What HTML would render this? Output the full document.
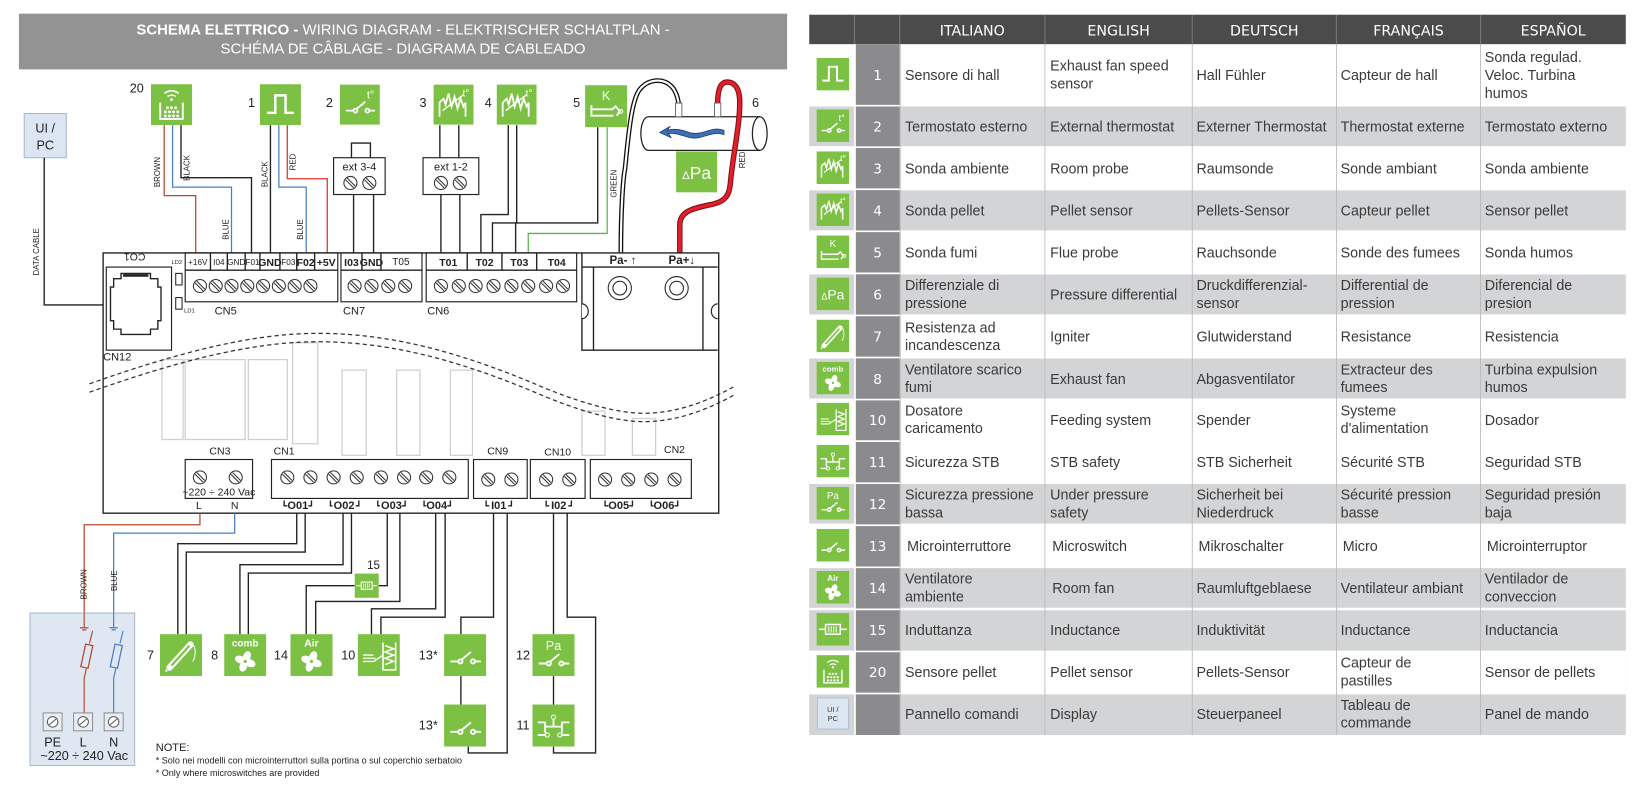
<!DOCTYPE html>
<html><head><meta charset="utf-8"><style>
html,body{margin:0;padding:0;background:#fff;}
svg{display:block;}
.d{font-family:"Liberation Sans",Arial,sans-serif;fill:#222;}
.t{font-family:"Liberation Sans","DejaVu Sans",sans-serif;fill:#3a3a3a;font-size:13.6px;}
.h{font-family:"DejaVu Sans","Liberation Sans",sans-serif;fill:#fff;font-size:13.5px;text-anchor:middle;}
.n{font-family:"DejaVu Sans","Liberation Sans",sans-serif;fill:#fff;font-size:13px;text-anchor:middle;}
.w{fill:none;stroke:#222;stroke-width:1.3;}
</style></head><body>
<svg width="1650" height="796" viewBox="0 0 1568 757" preserveAspectRatio="none" xmlns="http://www.w3.org/2000/svg">
<defs>
<g id="scr"><circle r="6.2" fill="#fff" stroke="#333" stroke-width="1"/><line x1="-3" y1="-4.6" x2="4.6" y2="3" stroke="#333" stroke-width="1"/><line x1="-4.6" y1="-3" x2="3" y2="4.6" stroke="#333" stroke-width="1"/></g>
<g id="swg" fill="none" stroke="#fff" stroke-width="1.8"><path d="M6 26H13.5M29.5 26H35M16.5 24.5L25.5 17"/><circle cx="15.5" cy="26" r="2"/><circle cx="27.5" cy="26" r="2"/></g>
<g id="fang" fill="#fff"><ellipse cx="0" cy="-5" rx="3.6" ry="5.2" transform="rotate(20)"/><ellipse cx="0" cy="-5" rx="3.6" ry="5.2" transform="rotate(110)"/><ellipse cx="0" cy="-5" rx="3.6" ry="5.2" transform="rotate(200)"/><ellipse cx="0" cy="-5" rx="3.6" ry="5.2" transform="rotate(290)"/><circle r="1.5" fill="#7cc143"/></g>
<symbol id="i-hall" viewBox="0 0 40 40"><rect width="40" height="40" fill="#7cc143"/><path d="M7 28H15V11H25V28H33" stroke="#fff" stroke-width="2.4" fill="none"/></symbol>
<symbol id="i-th" viewBox="0 0 40 40"><rect width="40" height="40" fill="#7cc143"/><use href="#swg"/><text x="27" y="14" font-size="11" fill="#fff" font-family="Liberation Sans,sans-serif">t°</text></symbol>
<symbol id="i-pr" viewBox="0 0 40 40"><rect width="40" height="40" fill="#7cc143"/><path d="M6 32V18L10 14L12 20L15 9L18 22L21 12L24 24L27 14L30 22L32 18V32" stroke="#fff" stroke-width="1.8" fill="none"/><path d="M9 26L30 10" stroke="#fff" stroke-width="1.4"/><text x="29" y="12" font-size="10" fill="#fff" font-family="Liberation Sans,sans-serif">t°</text></symbol>
<symbol id="i-k" viewBox="0 0 40 40"><rect width="40" height="40" fill="#7cc143"/><text x="20" y="14" font-size="12" fill="#fff" text-anchor="middle" font-family="Liberation Sans,sans-serif">K</text><path d="M6 19V29H27M6 23H26L29 20L33 25L30 29" stroke="#fff" stroke-width="1.8" fill="none"/><circle cx="34" cy="25" r="1.8" stroke="#fff" fill="none"/></symbol>
<symbol id="i-comb" viewBox="0 0 40 40"><rect width="40" height="40" fill="#7cc143"/><text x="20" y="12" font-size="9.5" font-weight="bold" fill="#fff" text-anchor="middle" font-family="Liberation Sans,sans-serif">comb</text><use href="#fang" x="20" y="26"/></symbol>
<symbol id="i-air" viewBox="0 0 40 40"><rect width="40" height="40" fill="#7cc143"/><text x="20" y="12" font-size="10" font-weight="bold" fill="#fff" text-anchor="middle" font-family="Liberation Sans,sans-serif">Air</text><use href="#fang" x="20" y="26"/></symbol>
<symbol id="i-ign" viewBox="0 0 40 40"><rect width="40" height="40" fill="#7cc143"/><path d="M9 32L29 10" stroke="#fff" stroke-width="6" stroke-linecap="round"/><path d="M11 30L28 11" stroke="#7cc143" stroke-width="2"/><path d="M30 9C35 12 34 22 31 26" stroke="#fff" stroke-width="1" fill="none"/><circle cx="6" cy="35" r="1" fill="#fff"/></symbol>
<symbol id="i-feed" viewBox="0 0 40 40"><rect width="40" height="40" fill="#7cc143"/><path d="M24 8V34H36V8M26 11L34 14L26 17L34 20L26 23L34 26L26 29" stroke="#fff" stroke-width="1.5" fill="none"/><path d="M5 20H15M5 23H17M5 26H15L24 20" stroke="#fff" stroke-width="1.3" fill="none"/></symbol>
<symbol id="i-sw" viewBox="0 0 40 40"><rect width="40" height="40" fill="#7cc143"/><use href="#swg"/></symbol>
<symbol id="i-pa" viewBox="0 0 40 40"><rect width="40" height="40" fill="#7cc143"/><text x="20" y="15" font-size="12" fill="#fff" text-anchor="middle" font-family="Liberation Sans,sans-serif">Pa</text><use href="#swg" y="2"/></symbol>
<symbol id="i-stb" viewBox="0 0 40 40"><rect width="40" height="40" fill="#7cc143"/><path d="M5 17H12V27M28 27V17H35M5 29H13M27 29H35M12 21H28M20 21V14" stroke="#fff" stroke-width="1.7" fill="none"/><circle cx="20" cy="12" r="2" stroke="#fff" fill="none"/><circle cx="14" cy="29" r="2" stroke="#fff" fill="none"/><circle cx="26" cy="29" r="2" stroke="#fff" fill="none"/></symbol>
<symbol id="i-ind" viewBox="0 0 40 40"><rect width="40" height="40" fill="#7cc143"/><path d="M3 20H11M29 20H37" stroke="#fff" stroke-width="2"/><rect x="11" y="14" width="18" height="12" stroke="#fff" stroke-width="1.8" fill="none"/><path d="M15 16V24M18 16V24M21 16V24M24 16V24" stroke="#fff" stroke-width="1.2"/></symbol>
<symbol id="i-pel" viewBox="0 0 40 40"><rect width="40" height="40" fill="#7cc143"/><path d="M13 9Q20 4 27 9M16 12Q20 9.5 24 12" stroke="#fff" stroke-width="1.5" fill="none"/><circle cx="20" cy="15" r="1.4" fill="#fff"/><path d="M9 18V34H31V18" stroke="#fff" stroke-width="1.8" fill="none"/><g fill="#fff"><circle cx="16" cy="23" r="1.4"/><circle cx="20" cy="23" r="1.4"/><circle cx="24" cy="23" r="1.4"/><circle cx="14" cy="27" r="1.4"/><circle cx="18" cy="27" r="1.4"/><circle cx="22" cy="27" r="1.4"/><circle cx="26" cy="27" r="1.4"/><circle cx="14" cy="31" r="1.4"/><circle cx="18" cy="31" r="1.4"/><circle cx="22" cy="31" r="1.4"/><circle cx="26" cy="31" r="1.4"/></g></symbol>
<symbol id="i-dpa" viewBox="0 0 40 40"><rect width="40" height="40" fill="#7cc143"/><text x="20" y="27" font-size="17" fill="#fff" text-anchor="middle" font-family="Liberation Sans,sans-serif"><tspan font-size="11">Δ</tspan>Pa</text></symbol>
<symbol id="i-ui" viewBox="0 0 40 40"><rect x="1" y="1" width="38" height="38" fill="#dce6f3" stroke="#aebbd0"/><text x="20" y="18" font-size="9" fill="#333" text-anchor="middle" font-family="Liberation Sans,sans-serif">UI /</text><text x="20" y="29" font-size="9" fill="#333" text-anchor="middle" font-family="Liberation Sans,sans-serif">PC</text></symbol>
</defs>

<!-- header -->
<rect x="18" y="13" width="730" height="53" fill="#939393"/>
<text x="383" y="33" class="d" font-size="14.2" fill="#fff" text-anchor="middle" style="fill:#fff"><tspan font-weight="bold">SCHEMA ELETTRICO -</tspan> WIRING DIAGRAM - ELEKTRISCHER SCHALTPLAN -</text>
<text x="383" y="51" class="d" font-size="14.2" text-anchor="middle" style="fill:#fff">SCHÉMA DE CÂBLAGE - DIAGRAMA DE CABLEADO</text>

<!-- UI/PC -->
<rect x="23" y="108" width="40" height="42" fill="#dce6f3" stroke="#a9b8cc"/>
<text x="43" y="126" class="d" font-size="12" text-anchor="middle">UI /</text>
<text x="43" y="142" class="d" font-size="12" text-anchor="middle">PC</text>
<path class="w" d="M42 150V290H98"/>
<text transform="translate(37,262) rotate(-90)" class="d" font-size="7.5">DATA CABLE</text>

<!-- top components -->
<use href="#i-pel" x="143" y="80" width="40" height="39"/>
<text x="130" y="88" class="d" font-size="12" text-anchor="middle">20</text>
<use href="#i-hall" x="247" y="80" width="39" height="39"/>
<text x="239" y="102" class="d" font-size="12" text-anchor="middle">1</text>
<use href="#i-th" x="323" y="80" width="38" height="39"/>
<text x="313" y="102" class="d" font-size="12" text-anchor="middle">2</text>
<use href="#i-pr" x="412" y="80" width="38" height="39"/>
<text x="402" y="102" class="d" font-size="12" text-anchor="middle">3</text>
<use href="#i-pr" x="472" y="80" width="38" height="39"/>
<text x="464" y="102" class="d" font-size="12" text-anchor="middle">4</text>
<use href="#i-k" x="556" y="81" width="40" height="40"/>
<text x="548" y="102" class="d" font-size="12" text-anchor="middle">5</text>
<text x="718" y="102" class="d" font-size="12" text-anchor="middle">6</text>

<!-- top wires -->
<path d="M156 119V186H186V240" fill="none" stroke="#b4492e" stroke-width="1.2"/>
<path d="M164 119V178H220V240" fill="none" stroke="#4a7fc1" stroke-width="1.2"/>
<path d="M172 119V169H239V240" class="w"/>
<text transform="translate(152,178) rotate(-90)" class="d" font-size="7.5">BROWN</text>
<text transform="translate(180,172) rotate(-90)" class="d" font-size="7.5">BLACK</text>
<text transform="translate(217,228) rotate(-90)" class="d" font-size="7.5">BLUE</text>
<path d="M257 119V240" class="w"/>
<path d="M265 119V178H291V240" fill="none" stroke="#4a7fc1" stroke-width="1.2"/>
<path d="M273 119V170H311V240" fill="none" stroke="#e0332e" stroke-width="1.2"/>
<text transform="translate(254,178) rotate(-90)" class="d" font-size="7.5">BLACK</text>
<text transform="translate(281,162) rotate(-90)" class="d" font-size="7.5">RED</text>
<text transform="translate(288,228) rotate(-90)" class="d" font-size="7.5">BLUE</text>
<!-- ext 3-4 -->
<path class="w" d="M334 150V136H352V150"/>
<rect x="317" y="150" width="49" height="35" fill="#fff" stroke="#222" stroke-width="1.1"/>
<text x="341.5" y="162" class="d" font-size="10.5" text-anchor="middle">ext 3-4</text>
<use href="#scr" x="333" y="174"/><use href="#scr" x="351" y="174"/>
<path class="w" d="M336 185V240M355 185V240"/>
<!-- ext 1-2 -->
<path class="w" d="M418 119V150M436 119V150"/>
<rect x="402" y="150" width="53" height="35" fill="#fff" stroke="#222" stroke-width="1.1"/>
<text x="428.5" y="162" class="d" font-size="10.5" text-anchor="middle">ext 1-2</text>
<use href="#scr" x="419" y="174"/><use href="#scr" x="437" y="174"/>
<path class="w" d="M419 185V240M437 185V240"/>
<path class="w" d="M483 119V204H457V240M491 119V212H468V240"/>
<path class="w" d="M568 121V212H490V240"/>
<path d="M577 121V222H502V240" fill="none" stroke="#5cb34a" stroke-width="1.2"/>
<text transform="translate(586,188) rotate(-90)" class="d" font-size="7.5">GREEN</text>

<!-- pipe -->
<path d="M616 111H722A7 16 0 0 1 722 143H616A7 16 0 0 1 616 111Z" fill="#fff" stroke="#222" stroke-width="1.2"/>
<path d="M722 111A7 16 0 0 0 722 143" fill="none" stroke="#222" stroke-width="1.2"/>
<path d="M688 124C676 119 668 130 655 126C646 123 640 122 634 124L637 120L627 126L638 131L635 127C642 126 648 129 656 131C668 133 676 124 688 128Z" fill="#3d6fb6" stroke="#1f3f7a" stroke-width="0.8"/>
<use href="#i-dpa" x="642" y="144" width="40" height="39"/>
<!-- Pa- wire white -->
<path d="M590 240C590 200 592 170 594 160C597 130 600 95 608 85C616 75 630 74 638 82C642 86 644 92 645 99" fill="none" stroke="#111" stroke-width="4.5"/>
<path d="M590 240C590 200 592 170 594 160C597 130 600 95 608 85C616 75 630 74 638 82C642 86 644 92 645 99" fill="none" stroke="#fff" stroke-width="2"/>
<rect x="642" y="98" width="6" height="13" fill="#fff" stroke="#555" stroke-width="0.8"/>
<!-- red wire -->
<path d="M646 240V214C646 200 660 198 678 194C690 191 693 185 694 175C696 150 703 120 703 98C703 82 697 78 691 78C685 78 682 84 682 98" fill="none" stroke="#8a0c15" stroke-width="5.2"/>
<path d="M646 240V214C646 200 660 198 678 194C690 191 693 185 694 175C696 150 703 120 703 98C703 82 697 78 691 78C685 78 682 84 682 98" fill="none" stroke="#e0202a" stroke-width="3.2"/>
<rect x="679" y="98" width="6" height="13" fill="#fff" stroke="#555" stroke-width="0.8"/>
<text transform="translate(708,160) rotate(-90)" class="d" font-size="7.5">RED</text>

<!-- board -->
<path class="w" d="M98 240.5H683V488H98Z" fill="none"/>
<!-- CN12 -->
<rect x="101" y="254" width="62" height="79" fill="none" stroke="#222" stroke-width="1.1"/>
<text x="128" y="249" class="d" font-size="10" text-anchor="middle" transform="rotate(180,128,245)">CO1</text>
<path class="w" d="M115 260H143V265H150V273H153V305H150V313H143V318H115V313H108V305H105V273H108V265H115Z"/>
<path d="M117 262H141" stroke="#222" stroke-width="2.5"/>
<text x="98" y="343" class="d" font-size="10.5">CN12</text>
<rect x="167" y="260" width="6" height="11" fill="#fff" stroke="#222"/>
<rect x="167" y="283" width="6" height="11" fill="#fff" stroke="#222"/>
<text x="163" y="251" class="d" font-size="5.5">LD2</text>
<text x="175" y="297" class="d" font-size="5.5">LD1</text>
<!-- CN5 -->
<rect x="176" y="240.5" width="145" height="46.5" fill="none" stroke="#222" stroke-width="1.1"/>
<path class="w" d="M176 257H321M200 240.5V257M216 240.5V257M233 240.5V257M247 240.5V257M266 240.5V257M282 240.5V257M299 240.5V257"/>
<g class="d" font-size="7.8" text-anchor="middle">
<text x="188" y="252">+16V</text><text x="208" y="252">I04</text><text x="224.5" y="252">GND</text><text x="240" y="252">F01</text><text x="274" y="252">F03</text></g>
<g class="d" font-size="10" font-weight="bold" text-anchor="middle"><text x="256.5" y="253">GND</text><text x="290.5" y="253">F02</text><text x="310" y="253">+5V</text></g>
<use href="#scr" x="190" y="272"/><use href="#scr" x="205" y="272"/><use href="#scr" x="220" y="272"/><use href="#scr" x="235" y="272"/><use href="#scr" x="250" y="272"/><use href="#scr" x="265" y="272"/><use href="#scr" x="280" y="272"/><use href="#scr" x="295" y="272"/>
<text x="204" y="299" class="d" font-size="10.5">CN5</text>
<!-- CN7 -->
<rect x="324" y="240.5" width="77" height="46.5" fill="none" stroke="#222" stroke-width="1.1"/>
<path class="w" d="M324 257H401M344 240.5V257M362 240.5V257"/>
<g class="d" font-size="10" font-weight="bold" text-anchor="middle"><text x="334" y="253">I03</text><text x="353" y="253">GND</text></g>
<text x="381" y="252" class="d" font-size="9.5" text-anchor="middle">T05</text>
<use href="#scr" x="337" y="272"/><use href="#scr" x="353" y="272"/><use href="#scr" x="369" y="272"/><use href="#scr" x="385" y="272"/>
<text x="326" y="299" class="d" font-size="10.5">CN7</text>
<!-- CN6 -->
<rect x="405" y="240.5" width="143" height="46.5" fill="none" stroke="#222" stroke-width="1.1"/>
<path class="w" d="M405 257H548M444 240.5V257M477 240.5V257M510 240.5V257"/>
<g class="d" font-size="10" font-weight="bold" text-anchor="middle"><text x="426" y="253">T01</text><text x="460.5" y="253">T02</text><text x="493.5" y="253">T03</text><text x="529" y="253">T04</text></g>
<use href="#scr" x="419" y="272"/><use href="#scr" x="436" y="272"/><use href="#scr" x="452" y="272"/><use href="#scr" x="469" y="272"/><use href="#scr" x="486" y="272"/><use href="#scr" x="502" y="272"/><use href="#scr" x="519" y="272"/><use href="#scr" x="535" y="272"/>
<text x="406" y="299" class="d" font-size="10.5">CN6</text>
<!-- Pa block -->
<path class="w" d="M553 240.5V333H682M553 254H682M564 254V333M668 254V333"/>
<path d="M553 289A6 7 0 0 1 553 303" fill="#fff" stroke="#222" stroke-width="1.1"/>
<path d="M682 289A6 7 0 0 0 682 303" fill="#fff" stroke="#222" stroke-width="1.1"/>
<g class="d" font-size="11" font-weight="bold" text-anchor="middle"><text x="592" y="251">Pa- ↑</text><text x="648" y="251">Pa+↓</text></g>
<circle cx="589" cy="274" r="11" fill="none" stroke="#222"/><circle cx="589" cy="274" r="6.5" fill="none" stroke="#222"/>
<circle cx="643" cy="274" r="11" fill="none" stroke="#222"/><circle cx="643" cy="274" r="6.5" fill="none" stroke="#222"/>

<!-- relays -->
<g fill="none" stroke="#cfcfcf" stroke-width="1.2">
<rect x="154" y="342" width="20" height="76"/><rect x="176" y="342" width="57" height="76"/><rect x="236" y="342" width="37" height="76"/><rect x="278" y="326" width="24" height="96"/><rect x="325" y="352" width="23" height="81"/><rect x="377" y="352" width="22" height="81"/><rect x="428" y="352" width="21" height="81"/><rect x="553" y="391" width="22" height="42"/><rect x="601" y="398" width="22" height="35"/>
</g>
<!-- wavy dashed -->
<g fill="none" stroke="#333" stroke-width="1.2" stroke-dasharray="4,3">
<path d="M85 365C170 335 240 317 302 317C380 317 450 340 520 370C560 386 590 393 612 393C645 393 675 380 697 368"/>
<path d="M85 373C170 343 240 325 302 325C380 325 450 348 520 378C560 394 590 401 612 401C645 401 675 388 697 376"/>
</g>

<!-- bottom connectors -->
<rect x="176" y="437" width="64" height="37" fill="#fff" stroke="#222" stroke-width="1.1"/>
<use href="#scr" x="190" y="454"/><use href="#scr" x="224" y="454"/>
<text x="208" y="471" class="d" font-size="10" text-anchor="middle">~220 ÷ 240 Vac</text>
<text x="209" y="432" class="d" font-size="10" text-anchor="middle">CN3</text>
<text x="189" y="484" class="d" font-size="10" text-anchor="middle">L</text><text x="223" y="484" class="d" font-size="10" text-anchor="middle">N</text>
<rect x="258" y="437" width="187" height="37" fill="#fff" stroke="#222" stroke-width="1.1"/>
<use href="#scr" x="273" y="454"/><use href="#scr" x="295" y="454"/><use href="#scr" x="317" y="454"/><use href="#scr" x="339" y="454"/><use href="#scr" x="362" y="454"/><use href="#scr" x="384" y="454"/><use href="#scr" x="405" y="454"/><use href="#scr" x="427" y="454"/>
<text x="270" y="432" class="d" font-size="10" text-anchor="middle">CN1</text>
<rect x="450" y="437" width="51" height="37" fill="#fff" stroke="#222" stroke-width="1.1"/>
<use href="#scr" x="464" y="456"/><use href="#scr" x="486" y="456"/>
<text x="473" y="432" class="d" font-size="10" text-anchor="middle">CN9</text>
<rect x="504" y="437" width="52" height="37" fill="#fff" stroke="#222" stroke-width="1.1"/>
<use href="#scr" x="519" y="456"/><use href="#scr" x="541" y="456"/>
<text x="530" y="433" class="d" font-size="10" text-anchor="middle">CN10</text>
<rect x="561" y="437" width="96" height="37" fill="#fff" stroke="#222" stroke-width="1.1"/>
<use href="#scr" x="575" y="456"/><use href="#scr" x="597" y="456"/><use href="#scr" x="619" y="456"/><use href="#scr" x="641" y="456"/>
<text x="641" y="431" class="d" font-size="10" text-anchor="middle">CN2</text>
<g class="d" font-size="10.5" font-weight="bold" text-anchor="middle">
<text x="283" y="484">O01</text><text x="327" y="484">O02</text><text x="372" y="484">O03</text><text x="415" y="484">O04</text><text x="474" y="484">I01</text><text x="531" y="484">I02</text><text x="588" y="484">O05</text><text x="631" y="484">O06</text></g>
<path class="w" stroke-width="0.9" d="M270 476V481H273M293 481H296V476M314 476V481H316M338 481H341V476M359 476V481H361M382 481H385V476M403 476V481H405M425 481H428V476M462 476V481H465M483 481H486V476M519 476V481H522M540 481H543V476M575 476V481H578M598 481H601V476M619 476V481H621M641 481H644V476"/>

<!-- power wires -->
<path d="M190 488V499H80V597" fill="none" stroke="#b4492e" stroke-width="1.2"/>
<path d="M223 488V507H108V597" fill="none" stroke="#4a7fc1" stroke-width="1.2"/>
<text transform="translate(82,570) rotate(-90)" class="d" font-size="7.5">BROWN</text>
<text transform="translate(111,562) rotate(-90)" class="d" font-size="7.5">BLUE</text>
<rect x="28.5" y="583" width="99.5" height="145" fill="#dfe7f3" stroke="#a9b8cc"/>
<path d="M80 583V597M76 597H84M78 599H82" fill="none" stroke="#b4492e" stroke-width="1.1"/>
<path d="M108 583V597M104 597H112M106 599H110" fill="none" stroke="#4a7fc1" stroke-width="1.1"/>
<path d="M88 600L85 612M82 636L80 645V681" fill="none" stroke="#b4492e" stroke-width="1.1"/>
<rect x="79" y="613" width="7" height="22" fill="none" stroke="#b4492e" stroke-width="1.2" transform="rotate(12,82.5,624)"/>
<path d="M117 600L114 612M110 636L108 645V681" fill="none" stroke="#4a7fc1" stroke-width="1.1"/>
<rect x="107" y="613" width="7" height="22" fill="none" stroke="#4a7fc1" stroke-width="1.2" transform="rotate(12,110.5,624)"/>
<g fill="#e8edf4" stroke="#888" stroke-width="0.9"><rect x="41" y="678" width="18" height="17"/><rect x="70" y="678" width="18" height="17"/><rect x="99" y="678" width="18" height="17"/></g>
<g fill="#fff" stroke="#555" stroke-width="0.9"><circle cx="50" cy="686.5" r="5"/><circle cx="79" cy="686.5" r="5"/><circle cx="108" cy="686.5" r="5"/><path d="M46.5 689.5L53.5 683.5M75.5 689.5L82.5 683.5M104.5 689.5L111.5 683.5"/></g>
<g class="d" font-size="12" text-anchor="middle"><text x="50" y="710">PE</text><text x="79" y="710">L</text><text x="108" y="710">N</text><text x="80" y="723">~220 ÷ 240 Vac</text></g>

<!-- output wires -->
<path class="w" d="M282 488V517H169V603M290 488V525H177V603"/>
<path class="w" d="M326 488V537H228V603M334 488V545H236V603"/>
<path class="w" d="M368 488V557H360M337 557H291V603M380 488V572H300V603"/>
<path class="w" d="M414 488V579H353V603M423 488V587H362V603"/>
<path class="w" d="M469 488V587H438V603M438 643V670M445 710V716H482V488"/>
<path class="w" d="M526 488V603M526 643V670M539 488V587H566V716H526V710"/>

<!-- bottom components -->
<use href="#i-ind" x="337" y="545" width="23" height="24"/>
<text x="355" y="541" class="d" font-size="11" text-anchor="middle">15</text>
<use href="#i-ign" x="152" y="603" width="40" height="40"/><text x="143" y="627" class="d" font-size="12" text-anchor="middle">7</text>
<use href="#i-comb" x="213" y="603" width="40" height="40"/><text x="204" y="627" class="d" font-size="12" text-anchor="middle">8</text>
<use href="#i-air" x="276" y="603" width="40" height="40"/><text x="267" y="627" class="d" font-size="12" text-anchor="middle">14</text>
<use href="#i-feed" x="340" y="603" width="40" height="40"/><text x="331" y="627" class="d" font-size="12" text-anchor="middle">10</text>
<use href="#i-sw" x="422" y="603" width="40" height="40"/><text x="407" y="627" class="d" font-size="12" text-anchor="middle">13*</text>
<use href="#i-pa" x="506" y="603" width="40" height="40"/><text x="497" y="627" class="d" font-size="12" text-anchor="middle">12</text>
<use href="#i-sw" x="422" y="670" width="40" height="40"/><text x="407" y="694" class="d" font-size="12" text-anchor="middle">13*</text>
<use href="#i-stb" x="506" y="670" width="40" height="40"/><text x="497" y="694" class="d" font-size="12" text-anchor="middle">11</text>
<text x="148" y="714" class="d" font-size="10.5">NOTE:</text>
<text x="148" y="726" class="d" font-size="8.6">* Solo nei modelli con microinterruttori sulla portina o sul coperchio serbatoio</text>
<text x="148" y="738" class="d" font-size="8.6">* Only where microswitches are provided</text>

<!-- TABLE -->
<rect x="769" y="14" width="776" height="28" fill="#4b4b4b"/>
<path d="M812 14V42M855 14V42M993 14V42M1133 14V42M1270 14V42M1407 14V42" stroke="#777" stroke-width="1"/>
<text x="924" y="34" class="h">ITALIANO</text><text x="1063" y="34" class="h">ENGLISH</text><text x="1201.5" y="34" class="h">DEUTSCH</text><text x="1338.5" y="34" class="h">FRANÇAIS</text><text x="1476" y="34" class="h">ESPAÑOL</text>
<!-- grey rows -->
<g fill="#d3d4d6">
<rect x="769" y="101" width="776" height="38"/><rect x="769" y="181" width="776" height="38"/><rect x="769" y="261" width="776" height="38"/><rect x="769" y="341" width="776" height="38"/><rect x="769" y="460" width="776" height="38"/><rect x="769" y="540" width="776" height="38"/><rect x="769" y="620" width="776" height="38"/><rect x="769" y="700" width="0" height="0"/><rect x="769" y="660" width="776" height="39"/>
</g>
<rect x="769" y="620" width="776" height="39" fill="#fff"/>
<rect x="769" y="580" width="776" height="39" fill="#d3d4d6"/>
<!-- number column -->
<rect x="813" y="42" width="42" height="657" fill="#8b8b8d"/>
<g stroke="#fff" stroke-width="1.6">
<path d="M769 100.5H1545M769 140H1545M769 180H1545M769 220H1545M769 260H1545M769 300H1545M769 340H1545M769 380H1545M769 419.5H1545M769 459.5H1545M769 499.5H1545M769 539.5H1545M769 579.5H1545M769 619.5H1545M769 659.5H1545"/>
<path d="M812.5 42V699"/>
</g>
<path d="M993 42V699M1133 42V699M1270 42V699M1407 42V699M855.5 42V699" stroke="#b8b8b8" stroke-width="0.8"/>
<!-- icons -->
<use href="#i-hall" x="776" y="55" width="31" height="31"/>
<use href="#i-th" x="776" y="104" width="31" height="31"/>
<use href="#i-pr" x="776" y="144" width="31" height="31"/>
<use href="#i-pr" x="776" y="184" width="31" height="31"/>
<use href="#i-k" x="776" y="224" width="31" height="31"/>
<use href="#i-dpa" x="776" y="264" width="31" height="31"/>
<use href="#i-ign" x="776" y="304" width="31" height="31"/>
<use href="#i-comb" x="776" y="344" width="31" height="31"/>
<use href="#i-feed" x="776" y="383" width="31" height="31"/>
<use href="#i-stb" x="776" y="423" width="31" height="31"/>
<use href="#i-pa" x="776" y="463" width="31" height="31"/>
<use href="#i-sw" x="776" y="503" width="31" height="31"/>
<use href="#i-air" x="776" y="543" width="31" height="31"/>
<use href="#i-ind" x="776" y="583" width="31" height="31"/>
<use href="#i-pel" x="776" y="623" width="31" height="31"/>
<use href="#i-ui" x="776" y="663" width="31" height="31"/>
<!-- numbers -->
<g class="n"><text x="834" y="76">1</text><text x="834" y="125">2</text><text x="834" y="165">3</text><text x="834" y="205">4</text><text x="834" y="245">5</text><text x="834" y="285">6</text><text x="834" y="325">7</text><text x="834" y="365">8</text><text x="834" y="404">10</text><text x="834" y="444">11</text><text x="834" y="484">12</text><text x="834" y="524">13</text><text x="834" y="564">14</text><text x="834" y="604">15</text><text x="834" y="644">20</text></g>
<!-- text cells -->
<g class="t">
<text x="860" y="76">Sensore di hall</text><text x="998" y="67">Exhaust fan speed</text><text x="998" y="84">sensor</text><text x="1137" y="76">Hall Fühler</text><text x="1274" y="76">Capteur de hall</text><text x="1411" y="59">Sonda regulad.</text><text x="1411" y="76">Veloc. Turbina</text><text x="1411" y="93">humos</text>
<text x="860" y="125">Termostato esterno</text><text x="998" y="125">External thermostat</text><text x="1137" y="125">Externer Thermostat</text><text x="1274" y="125">Thermostat externe</text><text x="1411" y="125">Termostato externo</text>
<text x="860" y="165">Sonda ambiente</text><text x="998" y="165">Room probe</text><text x="1137" y="165">Raumsonde</text><text x="1274" y="165">Sonde ambiant</text><text x="1411" y="165">Sonda ambiente</text>
<text x="860" y="205">Sonda pellet</text><text x="998" y="205">Pellet sensor</text><text x="1137" y="205">Pellets-Sensor</text><text x="1274" y="205">Capteur pellet</text><text x="1411" y="205">Sensor pellet</text>
<text x="860" y="245">Sonda fumi</text><text x="998" y="245">Flue probe</text><text x="1137" y="245">Rauchsonde</text><text x="1274" y="245">Sonde des fumees</text><text x="1411" y="245">Sonda humos</text>
<text x="860" y="276">Differenziale di</text><text x="860" y="293">pressione</text><text x="998" y="285">Pressure differential</text><text x="1137" y="276">Druckdifferenzial-</text><text x="1137" y="293">sensor</text><text x="1274" y="276">Differential de</text><text x="1274" y="293">pression</text><text x="1411" y="276">Diferencial de</text><text x="1411" y="293">presion</text>
<text x="860" y="316">Resistenza ad</text><text x="860" y="333">incandescenza</text><text x="998" y="325">Igniter</text><text x="1137" y="325">Glutwiderstand</text><text x="1274" y="325">Resistance</text><text x="1411" y="325">Resistencia</text>
<text x="860" y="356">Ventilatore scarico</text><text x="860" y="373">fumi</text><text x="998" y="365">Exhaust fan</text><text x="1137" y="365">Abgasventilator</text><text x="1274" y="356">Extracteur des</text><text x="1274" y="373">fumees</text><text x="1411" y="356">Turbina expulsion</text><text x="1411" y="373">humos</text>
<text x="860" y="395">Dosatore</text><text x="860" y="412">caricamento</text><text x="998" y="404">Feeding system</text><text x="1137" y="404">Spender</text><text x="1274" y="395">Systeme</text><text x="1274" y="412">d'alimentation</text><text x="1411" y="404">Dosador</text>
<text x="860" y="444">Sicurezza STB</text><text x="998" y="444">STB safety</text><text x="1137" y="444">STB Sicherheit</text><text x="1274" y="444">Sécurité STB</text><text x="1411" y="444">Seguridad STB</text>
<text x="860" y="475">Sicurezza pressione</text><text x="860" y="492">bassa</text><text x="998" y="475">Under pressure</text><text x="998" y="492">safety</text><text x="1137" y="475">Sicherheit bei</text><text x="1137" y="492">Niederdruck</text><text x="1274" y="475">Sécurité pression</text><text x="1274" y="492">basse</text><text x="1411" y="475">Seguridad presión</text><text x="1411" y="492">baja</text>
<text x="862" y="524">Microinterruttore</text><text x="1000" y="524">Microswitch</text><text x="1139" y="524">Mikroschalter</text><text x="1276" y="524">Micro</text><text x="1413" y="524">Microinterruptor</text>
<text x="860" y="555">Ventilatore</text><text x="860" y="572">ambiente</text><text x="1000" y="564">Room fan</text><text x="1137" y="564">Raumluftgeblaese</text><text x="1274" y="564">Ventilateur ambiant</text><text x="1411" y="555">Ventilador de</text><text x="1411" y="572">conveccion</text>
<text x="860" y="604">Induttanza</text><text x="998" y="604">Inductance</text><text x="1137" y="604">Induktivität</text><text x="1274" y="604">Inductance</text><text x="1411" y="604">Inductancia</text>
<text x="860" y="644">Sensore pellet</text><text x="998" y="644">Pellet sensor</text><text x="1137" y="644">Pellets-Sensor</text><text x="1274" y="635">Capteur de</text><text x="1274" y="652">pastilles</text><text x="1411" y="644">Sensor de pellets</text>
<text x="860" y="684">Pannello comandi</text><text x="998" y="684">Display</text><text x="1137" y="684">Steuerpaneel</text><text x="1274" y="675">Tableau de</text><text x="1274" y="692">commande</text><text x="1411" y="684">Panel de mando</text>
</g>
</svg>
</body></html>
